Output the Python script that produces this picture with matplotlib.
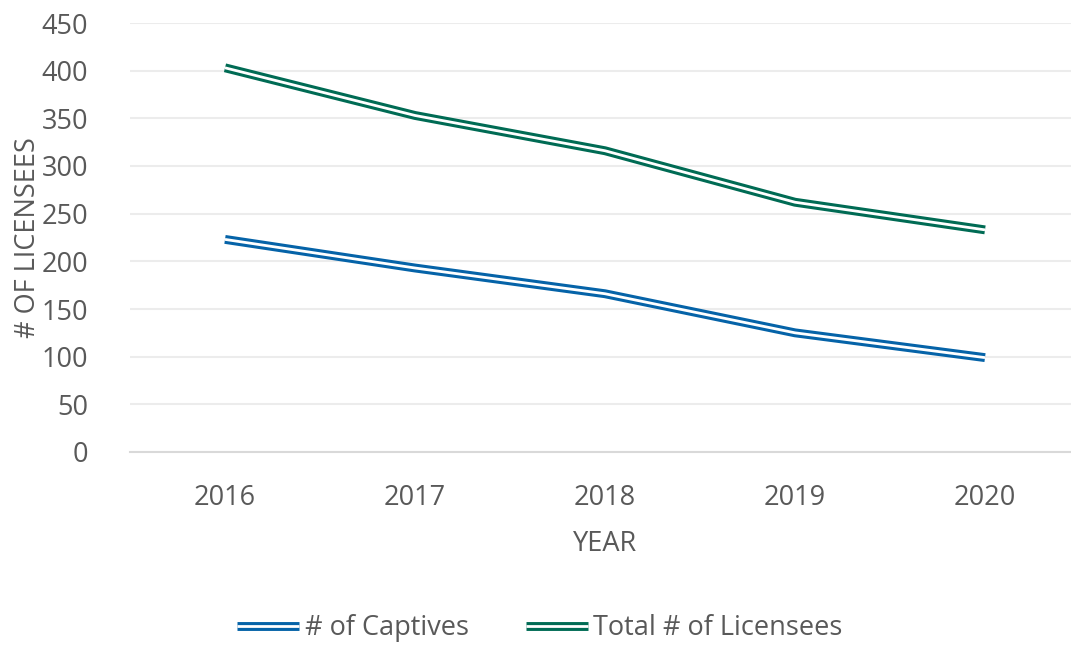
import matplotlib
matplotlib.use("Agg")
import matplotlib.pyplot as plt
import matplotlib.patheffects as pe

plt.rcParams['font.family'] = ['Open Sans', 'DejaVu Sans']

years = ["2016", "2017", "2018", "2019", "2020"]
captives = [223, 193, 166, 125, 99]
total_licensees = [403, 353, 316, 262, 233]
yticks = [0, 50, 100, 150, 200, 250, 300, 350, 400, 450]

blue = "#0563a8"
green = "#006b54"
text_col = "#595959"
grid_col = "#ececec"

W, H = 1071, 645
fig = plt.figure(figsize=(W / 100, H / 100), dpi=100)
left, right, top, bottom = 130, 1080, 23, 452
ax = fig.add_axes([left / W, 1 - bottom / H, (right - left) / W, (bottom - top) / H])

x = list(range(len(years)))

def dbl(color):
    return [pe.Stroke(linewidth=6.4, foreground=color), pe.Normal()]

ax.plot(x, captives, color="white", lw=2.0, solid_capstyle="butt",
        path_effects=dbl(blue), label="# of Captives", zorder=3)
ax.plot(x, total_licensees, color="white", lw=2.0, solid_capstyle="butt",
        path_effects=dbl(green), label="Total # of Licensees", zorder=3)

fs = 19.5
ax.set_xlim(-0.5, len(years) - 0.5)
ax.set_ylim(0, 450)
ax.set_yticks(yticks)
ax.set_xticks(x)
ax.set_xticklabels(years)
ax.yaxis.grid(True, color=grid_col, lw=1.5)
ax.set_axisbelow(True)
for s in ["top", "right", "left"]:
    ax.spines[s].set_visible(False)
ax.spines["bottom"].set_color("#d9d9d9")
ax.spines["bottom"].set_linewidth(1.5)
ax.tick_params(axis="both", length=0, labelsize=fs, colors=text_col)
ax.tick_params(axis="x", pad=23)
ax.tick_params(axis="y", pad=30)

ax.set_xlabel("YEAR", fontsize=fs, color=text_col, labelpad=13)
fig.text(28 / W, 1 - 238 / H, "# OF LICENSEES", rotation=90, fontsize=fs,
         color=text_col, ha="center", va="center")

leg = fig.legend(loc="center", bbox_to_anchor=(540 / W, 1 - 628 / H), ncol=2,
                 frameon=False, fontsize=fs, handlelength=2.3, handletextpad=0.2,
                 columnspacing=2.1)
for t in leg.get_texts():
    t.set_color(text_col)

fig.savefig("out.png", dpi=100)
